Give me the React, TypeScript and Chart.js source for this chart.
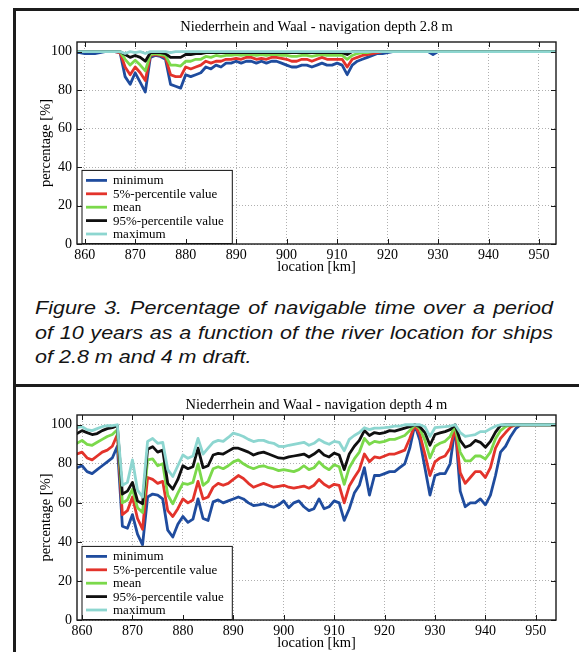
import React, { useEffect, useRef } from "react";
import { Chart, registerables } from "chart.js";

Chart.register(...registerables);

const FONT_SERIF = "'Liberation Serif', 'Times New Roman', Times, serif";

const xTicks = [860, 870, 880, 890, 900, 910, 920, 930, 940, 950];
const yTicks = [0, 20, 40, 60, 80, 100];
const seriesLabels = ["minimum", "5%-percentile value", "mean", "95%-percentile value", "maximum"];
const seriesColors = ["#1f4c9e", "#e3332b", "#7bd94b", "#101010", "#8dd6d0"];

const titleTop = "Niederrhein and Waal - navigation depth 2.8 m";
const titleBottom = "Niederrhein and Waal - navigation depth 4 m";
const xTitle = "location [km]";
const yTitle = "percentage [%]";
const captionText =
  "Figure 3. Percentage of navigable time over a period of 10 years as a function of the river location for ships of 2.8 m and 4 m draft.";

// ---- navigation depth 2.8 m ----
const kmTop = [
  858, 859, 860, 861, 862, 863, 864, 865, 866, 867,
  868, 869, 870, 871, 872, 873, 874, 875, 876, 877,
  878, 879, 880, 881, 882, 883, 884, 885, 886, 887,
  888, 889, 890, 891, 892, 893, 894, 895, 896, 897,
  898, 899, 900, 901, 902, 903, 904, 905, 906, 907,
  908, 909, 910, 911, 912, 913, 914, 915, 916, 917,
  918, 919, 920, 921, 922, 925, 928, 929, 930, 940,
  954,
];
const min28 = [
  99.5, 99.5, 99, 99, 99, 99.5, 100, 100, 100, 99.5,
  87, 83, 89, 84, 79, 97, 98, 97.5, 96, 83,
  82, 81, 88, 87, 88, 89, 92, 91, 93, 92,
  94, 94, 95, 94, 95, 95, 94, 95, 94, 95,
  95, 94, 93, 92, 92, 93, 93, 92, 93, 94,
  93, 93, 94, 93, 88, 93, 95, 96, 97, 98,
  99, 99, 99.5, 100, 100, 100, 100, 98.5, 100, 100,
  100,
];
const p5_28 = [
  100, 100, 100, 100, 100, 100, 100, 100, 100, 99.5,
  92, 88, 92, 89, 85, 98, 98.5, 98, 97, 88,
  87, 87, 92, 91, 92, 93, 95, 94, 95, 95,
  96, 96, 96.5, 96, 97, 97, 96, 96.5, 96, 97,
  97, 96.5, 96, 95, 95, 96, 96, 95, 96, 97,
  96, 96, 96, 96, 92, 96, 97, 98, 98.5, 99,
  99.5, 100, 100, 100, 100, 100, 100, 100, 100, 100,
  100,
];
const mean28 = [
  100, 100, 100, 100, 100, 100, 100, 100, 100, 100,
  96, 93, 95.5, 93, 90, 98.5, 99, 98.5, 98, 93,
  93, 92.5, 95, 95, 96, 96, 97.5, 97, 98, 97.5,
  98, 98, 98.5, 98, 98.5, 98.5, 98, 98.5, 98, 98.5,
  98.5, 98, 98, 97.5, 97.5, 98, 98, 97.5, 98, 98.5,
  98, 98, 98, 98, 96, 98, 99, 99.5, 99.5, 100,
  100, 100, 100, 100, 100, 100, 100, 100, 100, 100,
  100,
];
const p95_28 = [
  100, 100, 100, 100, 100, 100, 100, 100, 100, 100,
  98.5, 97, 98, 97, 95, 99.5, 99.5, 99.5, 99, 97,
  97, 97, 98.5, 98.5, 99, 99, 99.5, 99.5, 99.5, 99.5,
  99.5, 99.5, 99.5, 99.5, 99.5, 99.5, 99.5, 99.5, 99.5, 99.5,
  99.5, 99.5, 99.5, 99.5, 99.5, 99.5, 99.5, 99.5, 99.5, 99.5,
  99.5, 99.5, 99.5, 99.5, 98.5, 100, 100, 100, 100, 100,
  100, 100, 100, 100, 100, 100, 100, 100, 100, 100,
  100,
];
const max28 = [
  100, 100, 100, 100, 100, 100, 100, 100, 100, 100,
  99, 100, 99.5, 100, 99, 100, 100, 100, 100, 99.5,
  100, 100, 100, 100, 100, 100, 100, 100, 100, 100,
  100, 100, 100, 100, 100, 100, 100, 100, 100, 100,
  100, 100, 100, 100, 100, 100, 100, 100, 100, 100,
  100, 100, 100, 100, 100, 100, 100, 100, 100, 100,
  100, 100, 100, 100, 100, 100, 100, 100, 100, 100,
  100,
];

// ---- navigation depth 4 m ----
const kmBot = [
  859, 860, 861, 862, 863, 864, 865, 866, 867, 868,
  869, 870, 871, 872, 873, 874, 875, 876, 877, 878,
  879, 880, 881, 882, 883, 884, 885, 886, 887, 888,
  889, 890, 891, 892, 893, 894, 895, 896, 897, 898,
  899, 900, 901, 902, 903, 904, 905, 906, 907, 908,
  909, 910, 911, 912, 913, 914, 915, 916, 917, 918,
  919, 920, 921, 922, 923, 924, 925, 926, 927, 928,
  929, 930, 931, 932, 933, 934, 935, 936, 937, 938,
  939, 940, 941, 942, 943, 944, 945, 946, 947, 948,
  954,
];
const min40 = [
  78, 79, 76, 75, 77, 79, 81, 83, 89, 48,
  47, 54, 44, 38.5, 63, 64.5, 64, 62, 46, 42.5,
  49, 53, 50, 51.7, 62, 52, 51, 60.5, 61.5, 60,
  61, 62, 63, 62, 60, 58.6, 59, 59.5, 58.5, 57.8,
  59, 61, 57.5, 60, 61, 58, 56, 57, 62, 57,
  58, 61, 60, 51, 57, 65, 69, 78, 64, 74,
  74, 75, 76, 76, 78, 80, 88, 100, 92, 78,
  64, 74, 75, 75, 80, 99, 66, 58, 60, 60,
  62, 59, 64, 74, 86, 89, 94, 98, 100, 100,
  100,
];
const p5_40 = [
  85, 86, 83, 82, 84, 86, 87, 89, 95, 54,
  56, 63, 52, 46.5, 73, 72, 70, 71, 56, 53,
  57, 62, 60, 61.5, 71, 62, 63, 68, 70, 69,
  70, 72, 74, 72.5, 70, 68, 69, 70, 69, 68,
  68.5, 69, 68, 67.5, 68, 68.6, 67.5, 69, 72, 69.5,
  68, 69.5, 69, 60, 68.6, 73, 77, 85, 81, 83.5,
  83, 84, 85, 85, 86, 87, 93, 100, 95, 85,
  74, 81, 83, 84, 88, 98.5, 75.5, 70, 73, 76,
  76, 73, 78, 88, 93, 96, 98.8, 100, 100, 100,
  100,
];
const mean40 = [
  90.5, 92, 90, 89.5, 91, 92.5, 94, 95, 97.5, 60,
  61.5, 67, 57.5, 55, 82, 82.5, 79, 80, 64, 59.5,
  65, 70, 69.5, 70.5, 80, 69, 71, 77.5, 78.5, 77.5,
  79, 81, 82, 80, 78.5, 77.5, 78.5, 79, 78, 77.5,
  76.5, 77, 76.5, 76, 77, 79, 77, 78, 81, 78.5,
  77, 79.5, 78.5, 69.5, 78, 82.5, 86, 93, 90, 91.5,
  91, 91.5, 92.5, 92.5, 93.5, 94.5, 97, 100, 98, 92,
  83, 89, 90.5, 91.5, 94, 99.3, 86, 81.5, 81.5, 84,
  84, 82.5, 86, 92.8, 97, 99, 100, 100, 100, 100,
  100,
];
const p95_40 = [
  95.5, 97, 96, 95, 95.5, 97, 98, 98.5, 99.5, 64.5,
  66, 70.5, 61, 59.5, 87.5, 88.8, 86, 87, 70, 67,
  72, 79, 77.5, 78.5, 88, 78, 79, 84.5, 85.3, 85,
  86.5, 88, 88, 87, 86, 84.5, 85.5, 86, 85, 84,
  83, 82.8, 83.5, 84, 84.5, 85, 83.5, 85, 87, 84.5,
  83.5, 85.5, 84.5, 77, 85, 89, 92, 97, 94.5, 96,
  95.5, 96, 97, 96.7, 97.5, 98.3, 99, 100, 99, 96,
  89.5, 95, 95.8, 96.5, 97.5, 100, 92, 88.5, 89.5, 92,
  91, 88.5, 91.5, 96.2, 99.7, 100, 100, 100, 100, 100,
  100,
];
const max40 = [
  98.5, 99, 97.5, 97, 98, 99, 99.5, 99.5, 100, 69,
  70.5, 82, 66.5, 63, 91.5, 93, 90.5, 91, 77, 73.5,
  79, 84.5, 82.8, 84, 93, 85, 88, 91, 92, 91.5,
  93.5, 95.7, 95, 94, 92.5, 91.4, 92, 92, 91, 90.5,
  89, 88.8, 89.5, 90, 90.5, 91, 89.5, 90.5, 92.5, 91,
  90, 91.5, 91, 86.7, 92.5, 94.5, 96, 98.5, 97.5, 98.3,
  98.3, 98.5, 98.8, 99.3, 99.3, 100, 100, 100, 100, 99,
  94, 98.5, 98.8, 99, 99.3, 100, 96, 94, 94.5, 95,
  96.5, 96.5, 98, 99.3, 100, 100, 100, 100, 100, 100,
  100,
];

const framePlugin = {
  id: "matlabFrame",
  afterDraw(chart: any) {
    const { ctx, chartArea: a, scales } = chart;
    const xs = scales.x;
    const ys = scales.y;
    ctx.save();
    ctx.setLineDash([]);
    // legend box (lower left, inside axes)
    const rowH = 13.4;
    ctx.font = `13px ${FONT_SERIF}`;
    const ds = chart.data.datasets;
    const maxW = Math.max(...ds.map((d: any) => ctx.measureText(d.label).width));
    const left = a.left + 4.5;
    const h = 10.5 + rowH * (ds.length - 1) + 9;
    const bottom = a.bottom - 1;
    const top = bottom - h;
    const w = 31.5 + maxW + 8;
    ctx.fillStyle = "#ffffff";
    ctx.fillRect(left, top, w, h);
    ctx.strokeStyle = "#111";
    ctx.lineWidth = 1;
    ctx.strokeRect(left + 0.5, top + 0.5, w, h);
    ds.forEach((d: any, i: number) => {
      const y = top + 10.5 + i * rowH;
      ctx.strokeStyle = d.borderColor;
      ctx.lineWidth = 2.8;
      ctx.beginPath();
      ctx.moveTo(left + 4.5, y);
      ctx.lineTo(left + 25.5, y);
      ctx.stroke();
      ctx.fillStyle = "#000";
      ctx.textBaseline = "middle";
      ctx.textAlign = "left";
      ctx.fillText(d.label, left + 31.5, y + 0.5);
    });
    // inward tick marks
    ctx.strokeStyle = "#1a1a1a";
    ctx.lineWidth = 1;
    ctx.beginPath();
    xTicks.forEach((v) => {
      const p = Math.round(xs.getPixelForValue(v)) + 0.5;
      ctx.moveTo(p, a.bottom);
      ctx.lineTo(p, a.bottom - 5);
      ctx.moveTo(p, a.top);
      ctx.lineTo(p, a.top + 5);
    });
    yTicks.forEach((v) => {
      const p = Math.round(ys.getPixelForValue(v)) + 0.5;
      ctx.moveTo(a.left, p);
      ctx.lineTo(a.left + 5, p);
      ctx.moveTo(a.right, p);
      ctx.lineTo(a.right - 5, p);
    });
    ctx.stroke();
    // axes box
    ctx.lineWidth = 1.4;
    ctx.strokeRect(a.left, a.top, a.right - a.left, a.bottom - a.top);
    ctx.restore();
  },
};

type PanelProps = {
  top: number;
  height: number;
  title: string;
  km: number[];
  values: number[][];
  xMin: number;
  xMax: number;
  titlePadTop: number;
  titlePadBottom: number;
  xAxisH: number;
  xTitlePadBottom: number;
};

function Panel(props: PanelProps) {
  const ref = useRef<HTMLCanvasElement>(null);
  useEffect(() => {
    const tickFont = { family: FONT_SERIF, size: 14, weight: "normal" as const, lineHeight: 1.2 };
    const axisTitleFont = { family: FONT_SERIF, size: 14.5, weight: "normal" as const, lineHeight: 1.2 };
    const chart = new Chart(ref.current as HTMLCanvasElement, {
      type: "line",
      data: {
        datasets: props.values.map((v, i) => ({
          label: seriesLabels[i],
          data: props.km.map((k, j) => ({ x: k, y: v[j] })),
          borderColor: seriesColors[i],
          backgroundColor: seriesColors[i],
          borderWidth: 2.8,
          pointRadius: 0,
          tension: 0,
          fill: false,
          order: 5 - i,
          borderJoinStyle: "round" as const,
          borderCapStyle: "round" as const,
        })),
      },
      options: {
        animation: false,
        responsive: false,
        devicePixelRatio: 1,
        layout: { padding: { left: 0, right: 23, top: 0, bottom: 0 } },
        plugins: {
          legend: { display: false },
          tooltip: { enabled: false },
          title: {
            display: true,
            text: props.title,
            fullSize: false,
            color: "#000",
            font: { family: FONT_SERIF, size: 14.5, weight: "normal", lineHeight: 1.2 },
            padding: { top: props.titlePadTop, bottom: props.titlePadBottom },
          },
        },
        scales: {
          x: {
            type: "linear",
            min: props.xMin,
            max: props.xMax,
            afterBuildTicks: (s: any) => {
              s.ticks = xTicks.map((v) => ({ value: v }));
            },
            afterFit: (s: any) => {
              s.height = props.xAxisH;
            },
            ticks: {
              color: "#000",
              font: tickFont,
              padding: 2.6,
              maxRotation: 0,
              autoSkip: false,
              callback: (v: any) => String(v),
            },
            grid: { color: "#b0b0b0", lineWidth: 1, drawTicks: false },
            border: { display: false, dash: [1, 2] },
            title: {
              display: true,
              text: xTitle,
              color: "#000",
              font: axisTitleFont,
              padding: { top: 0, bottom: props.xTitlePadBottom },
            },
          },
          y: {
            type: "linear",
            min: 0,
            max: 105,
            afterBuildTicks: (s: any) => {
              s.ticks = yTicks.map((v) => ({ value: v }));
            },
            afterFit: (s: any) => {
              s.width = 77;
            },
            ticks: { color: "#000", font: tickFont, padding: 5, callback: (v: any) => String(v) },
            grid: { color: "#b0b0b0", lineWidth: 1, drawTicks: false },
            border: { display: false, dash: [1, 2] },
            title: {
              display: true,
              text: yTitle,
              color: "#000",
              font: axisTitleFont,
              padding: { top: 37.3, bottom: 0 },
            },
          },
        },
      } as any,
      plugins: [framePlugin],
    });
    return () => chart.destroy();
  }, []);
  return (
    <canvas
      ref={ref}
      width={579}
      height={props.height}
      style={{ position: "absolute", left: 0, top: props.top, width: 579, height: props.height }}
    />
  );
}

export default function App() {
  const line = "#1c1c1c";
  return (
    <div
      style={{
        position: "absolute",
        left: 0,
        top: 0,
        width: 579,
        height: 652,
        background: "#ffffff",
        overflow: "hidden",
      }}
    >
      <Panel
        top={0}
        height={280}
        title={titleTop}
        km={kmTop}
        values={[min28, p5_28, mean28, p95_28, max28]}
        xMin={858.47}
        xMax={953.37}
        titlePadTop={18.3}
        titlePadBottom={6.3}
        xAxisH={36}
        xTitlePadBottom={4.3}
      />
      <div
        style={{
          position: "absolute",
          left: 35,
          top: 296,
          width: 452,
          fontFamily: "'Liberation Sans', Arial, Helvetica, sans-serif",
          fontStyle: "italic",
          fontSize: 18.8,
          lineHeight: "24.5px",
          color: "#141414",
          textAlign: "justify",
          textAlignLast: "left" as any,
          transform: "scaleX(1.146)",
          transformOrigin: "0 0",
        }}
      >
        {captionText}
      </div>
      <Panel
        top={385}
        height={267}
        title={titleBottom}
        km={kmBot}
        values={[min40, p5_40, mean40, p95_40, max40]}
        xMin={859}
        xMax={954}
        titlePadTop={11.3}
        titlePadBottom={1.3}
        xAxisH={32}
        xTitlePadBottom={0.3}
      />
      <div style={{ position: "absolute", left: 13, top: 8, width: 2.5, height: 644, background: line }} />
      <div style={{ position: "absolute", left: 13, top: 8, width: 566, height: 2.5, background: line }} />
      <div style={{ position: "absolute", left: 13, top: 384, width: 566, height: 2.5, background: line }} />
    </div>
  );
}
